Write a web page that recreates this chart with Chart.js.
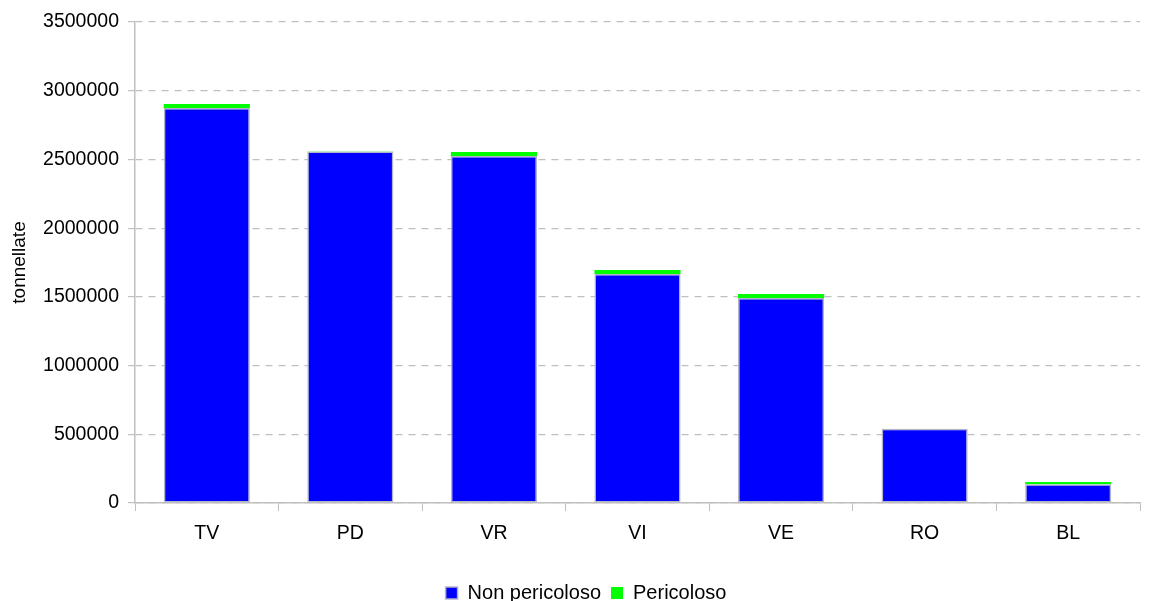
<!DOCTYPE html>
<html>
<head>
<meta charset="utf-8">
<script src="https://cdn.jsdelivr.net/npm/chart.js@4"></script>
<style>
  html, body { margin: 0; padding: 0; background: #fff; }
  #wrap { width: 1149px; height: 601px; position: relative; }
</style>
</head>
<body>
<div id="wrap"><canvas id="chart"></canvas></div>
<script>
const province = ['TV', 'PD', 'VR', 'VI', 'VE', 'RO', 'BL'];
const nonPericoloso = [2875000, 2558000, 2525000, 1666000, 1491000, 540000, 136000];
const pericoloso = [29000, 1000, 29000, 29000, 29000, 1000, 16000];
const yTicks = [0, 500000, 1000000, 1500000, 2000000, 2500000, 3000000, 3500000];

const font = { family: 'Liberation Sans, Arial, sans-serif', size: 19.5 };
const gridGrey = '#c0c0c0';

// the legend in the original sits a bit right of the page centre
const legendShift = {
  id: 'legendShift',
  afterUpdate(chart) {
    const lg = chart.legend;
    if (!lg || lg._shifted) return;
    const orig = lg.draw;
    lg.draw = function () {
      this.ctx.save();
      this.ctx.translate(16, 0);
      orig.call(this);
      this.ctx.restore();
    };
    lg._shifted = true;
  }
};

new Chart(document.getElementById('chart'), {
  type: 'bar',
  data: {
    labels: province,
    datasets: [
      {
        label: 'Non pericoloso',
        data: nonPericoloso,
        backgroundColor: '#0000ff',
        borderColor: '#b4b4c8',
        borderWidth: 1.5,
        borderSkipped: false,
        categoryPercentage: 1,
        barPercentage: 0.6
      },
      {
        label: 'Pericoloso',
        data: pericoloso,
        backgroundColor: '#00ff00',
        borderWidth: 0,
        categoryPercentage: 1,
        barPercentage: 0.6
      }
    ]
  },
  plugins: [legendShift],
  options: {
    responsive: true,
    maintainAspectRatio: false,
    animation: false,
    layout: { padding: { left: 0, right: 9, top: 22, bottom: -12 } },
    plugins: {
      legend: {
        position: 'bottom',
        labels: {
          font: { family: 'Liberation Sans, Arial, sans-serif', size: 20 },
          color: '#000',
          boxWidth: 12,
          boxHeight: 12,
          padding: 10,
          useBorderRadius: false
        }
      },
      tooltip: { enabled: false }
    },
    scales: {
      x: {
        stacked: true,
        offset: true,
        grid: {
          offset: true,
          drawOnChartArea: false,
          drawTicks: true,
          tickLength: 8,
          color: gridGrey
        },
        border: { color: gridGrey, width: 1.5 },
        ticks: { font: font, color: '#000', padding: 11 },
        afterFit: s => { s.height = 70; }
      },
      y: {
        stacked: true,
        min: 0,
        max: 3500000,
        afterBuildTicks: s => { s.ticks = yTicks.map(v => ({ value: v })); },
        grid: {
          color: gridGrey,
          lineWidth: 1.2,
          tickLength: 7,
          tickBorderDash: [],
          tickColor: gridGrey
        },
        border: { color: gridGrey, width: 1.5, dash: [7, 6] },
        ticks: {
          font: font,
          color: '#000',
          padding: 9,
          callback: v => String(v)
        },
        title: {
          display: true,
          text: 'tonnellate',
          font: { family: 'Liberation Sans, Arial, sans-serif', size: 19 },
          color: '#000',
          padding: { top: 8, bottom: 3 }
        },
        afterFit: s => { s.width = 135; }
      }
    }
  }
});
</script>
</body>
</html>
